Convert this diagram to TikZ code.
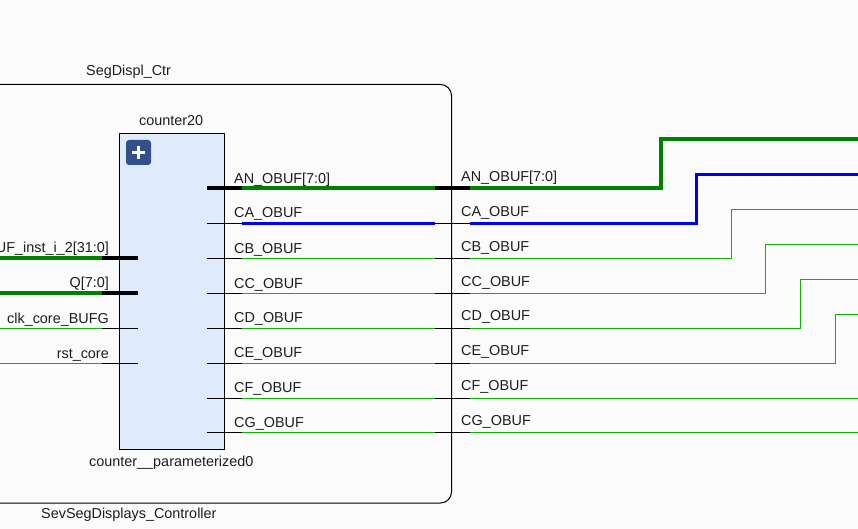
\documentclass[tikz,border=0pt]{standalone}
\usepackage{fontspec}
\setmainfont{Liberation Sans}
\definecolor{sheet}{RGB}{251,251,251}
\definecolor{blockfill}{RGB}{223,234,250}
\definecolor{plusfill}{RGB}{52,80,138}
\definecolor{busgreen}{RGB}{0,128,0}
\definecolor{netblue}{RGB}{0,0,240}
\definecolor{netgreen}{RGB}{20,175,10}
\definecolor{labelgray}{RGB}{30,30,30}

\begin{document}
\begin{tikzpicture} [
    x=1pt, y=-1pt,
    every node/.append style={font=\fontsize{14.4}{16}\selectfont, text=labelgray, inner sep=0pt},
    left label/.style={anchor=base east},
    right label/.style={anchor=base west},
    bus wire/.style={draw=busgreen, line width=4pt, line join=miter},
    blue wire/.style={draw=netblue, line width=3pt, line join=miter},
    thin wire/.style={draw=netgreen, line width=1pt, line join=miter},
    bus stub/.style={draw=black, line width=4pt},
    thin stub/.style={draw=black, line width=1pt}
  ]

  \useasboundingbox [fill=sheet] (0,0) rectangle (858,529);

  % hierarchy frame
  \draw [line width=1pt, rounded corners=11pt] (0,84.5) -- (451.5,84.5) -- (451.5,503) -- (0,503);
  \node [right label] (frametitle) at (86,76) {SegDispl\_Ctr};
  \node [right label] (framename) at (41,518) {SevSegDisplays\_Controller};

  % counter block
  \node [draw=black, line width=1pt, fill=blockfill, minimum width=105pt, minimum height=316pt, anchor=north west] (counter) at (119,133) {};
  \node [right label] (countertitle) at (139,126) {counter20};
  \node [right label] (countername) at (89,466) {counter\_\_parameterized0};
  \node [fill=plusfill, rounded corners=3pt, minimum width=25pt, minimum height=25pt] (expand) at (138.5,152.5) {};
  \draw [white, line width=2.4pt] ([xshift=-6.5pt]expand.center) -- ([xshift=6.5pt]expand.center);
  \draw [white, line width=2.4pt] ([yshift=-6.5pt]expand.center) -- ([yshift=6.5pt]expand.center);

  % inputs on the left
  \foreach \pin/\ypos/\wirestyle/\stubstyle/\pinlabel in {data/257.5/bus wire/bus stub/UF\_inst\_i\_2[31:0],
      q/292.5/bus wire/bus stub/Q[7:0],
      clk/328/thin wire/thin stub/clk\_core\_BUFG,
      rst/363/thin wire/thin stub/rst\_core} {
    \coordinate (\pin-edge) at (0,\ypos);
    \coordinate (\pin-a) at (102,\ypos);
    \coordinate (\pin-b) at (137.5,\ypos);
    \draw [\wirestyle] (\pin-edge) -- (\pin-a);
    \draw [\stubstyle] (\pin-a) -- (\pin-b);
    \node [left label] (\pin-label) at (109,\ypos-5) {\pinlabel};
  }

  % outputs: stubs on the block and on the frame, with their labels
  \foreach \pin/\ypos/\ytext/\stubstyle/\pinlabel in {an/188/184/bus stub/AN\_OBUF[7:0],
      ca/223.5/218/thin stub/CA\_OBUF,
      cb/258.5/253/thin stub/CB\_OBUF,
      cc/293.5/288/thin stub/CC\_OBUF,
      cd/328/322.7/thin stub/CD\_OBUF,
      ce/363/357.7/thin stub/CE\_OBUF,
      cf/398/392.7/thin stub/CF\_OBUF,
      cg/432.5/427.2/thin stub/CG\_OBUF} {
    \coordinate (\pin-a) at (207,\ypos);
    \coordinate (\pin-b) at (242,\ypos);
    \coordinate (\pin-c) at (435,\ypos);
    \coordinate (\pin-d) at (469.5,\ypos);
    \draw [\stubstyle] (\pin-a) -- (\pin-b);
    \draw [\stubstyle] (\pin-c) -- (\pin-d);
    \node [right label] (\pin-inner) at (234,\ytext) {\pinlabel};
    \node [right label] (\pin-outer) at (461,\ytext-2) {\pinlabel};
  }

  % nets between the stubs
  \draw [bus wire] (an-b) -- (an-c);
  \draw [blue wire] (ca-b) -- (ca-c);
  \foreach \pin in {cb,cc,cd,ce,cf,cg} {
    \draw [thin wire] (\pin-b) -- (\pin-c);
  }

  % nets leaving to the right
  \foreach \pin/\wirestyle/\xturn/\yend in {an/bus wire/661/139,
      ca/blue wire/696/174.5,
      cb/thin wire/731.5/209.5,
      cc/thin wire/765.5/244.5,
      cd/thin wire/800.5/279.5,
      ce/thin wire/835.5/314.5} {
    \coordinate (\pin-end) at (858,\yend);
    \draw [\wirestyle] (\pin-d) -| (\xturn,\yend) -- (\pin-end);
  }
  \coordinate (cf-end) at (858,398);
  \coordinate (cg-end) at (858,432.5);
  \draw [thin wire] (cf-d) -- (cf-end);
  \draw [thin wire] (cg-d) -- (cg-end);
\end{tikzpicture}
\end{document}
